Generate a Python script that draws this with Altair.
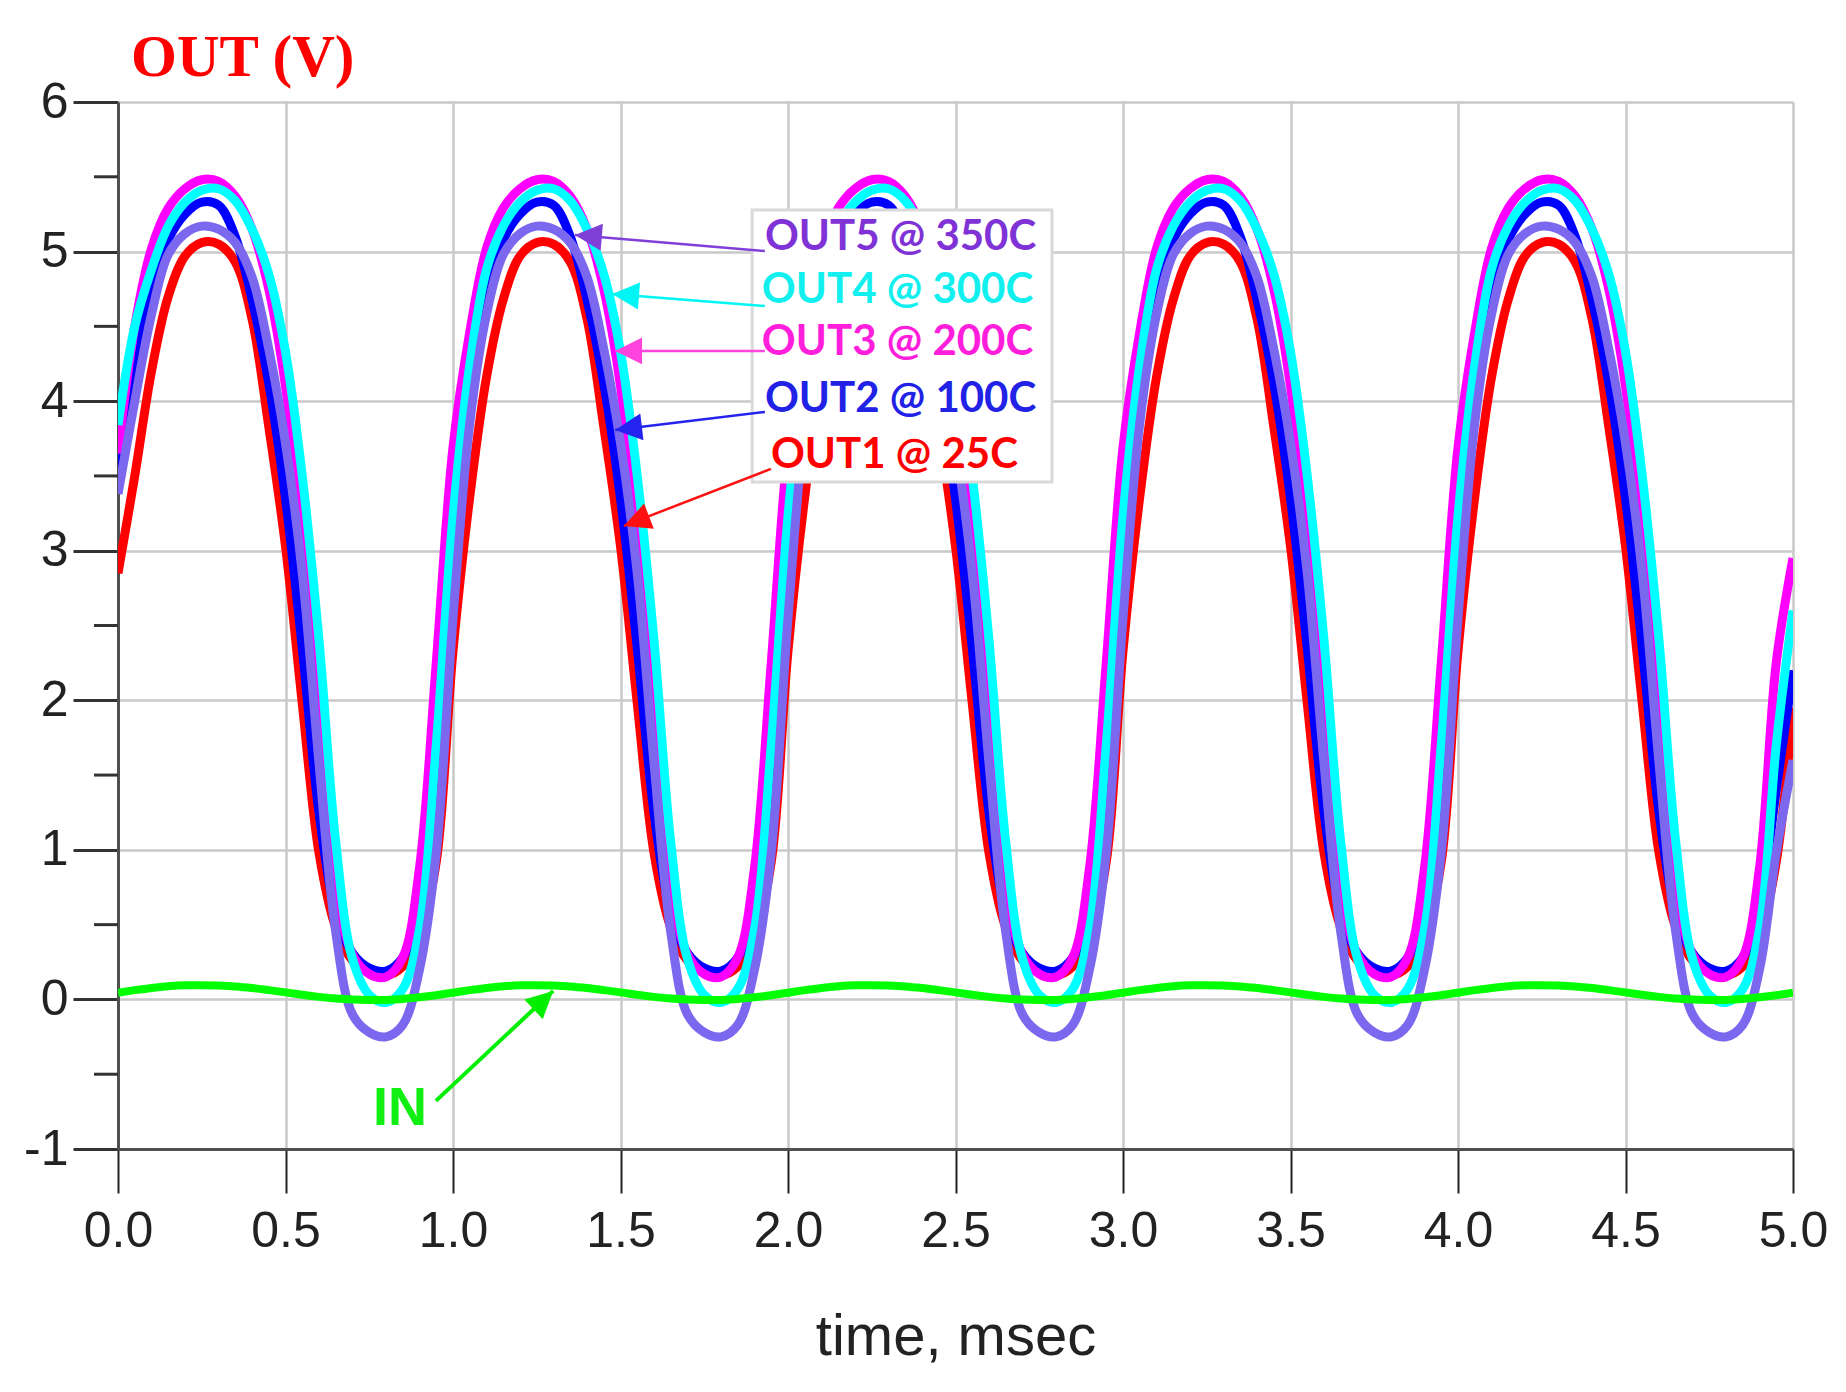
import altair as alt
import pandas as pd

# sampling grid (msec)
T = [round(i * 0.05, 2) for i in range(101)]

# ---- values (V), one row per millisecond ----
OUT1_25C = [
    2.85, 3.50, 4.20, 4.70, 4.97, 5.06, 5.05, 4.93, 4.55, 3.83, 3.03, 1.98, 0.98, 0.48, 0.26, 0.18, 0.16, 0.22, 0.42, 0.92,
    2.33, 3.36, 4.16, 4.68, 4.97, 5.06, 5.05, 4.93, 4.55, 3.83, 3.03, 1.98, 0.98, 0.48, 0.26, 0.18, 0.16, 0.22, 0.42, 0.92,
    2.33, 3.36, 4.16, 4.68, 4.97, 5.06, 5.05, 4.93, 4.55, 3.83, 3.03, 1.98, 0.98, 0.48, 0.26, 0.18, 0.16, 0.22, 0.42, 0.92,
    2.33, 3.36, 4.16, 4.68, 4.97, 5.06, 5.05, 4.93, 4.55, 3.83, 3.03, 1.98, 0.98, 0.48, 0.26, 0.18, 0.16, 0.22, 0.42, 0.92,
    2.33, 3.36, 4.16, 4.68, 4.97, 5.06, 5.05, 4.93, 4.55, 3.83, 3.03, 1.98, 0.98, 0.48, 0.26, 0.18, 0.16, 0.22, 0.42, 0.92,
    1.95]
OUT2_100C = [
    3.40, 4.20, 4.75, 5.08, 5.25, 5.33, 5.31, 5.10, 4.68, 4.12, 3.35, 2.35, 1.25, 0.58, 0.31, 0.21, 0.19, 0.28, 0.62, 1.40,
    2.90, 4.05, 4.75, 5.08, 5.25, 5.33, 5.31, 5.10, 4.68, 4.12, 3.35, 2.35, 1.25, 0.58, 0.31, 0.21, 0.19, 0.28, 0.62, 1.40,
    2.90, 4.05, 4.75, 5.08, 5.25, 5.33, 5.31, 5.10, 4.68, 4.12, 3.35, 2.35, 1.25, 0.58, 0.31, 0.21, 0.19, 0.28, 0.62, 1.40,
    2.90, 4.05, 4.75, 5.08, 5.25, 5.33, 5.31, 5.10, 4.68, 4.12, 3.35, 2.35, 1.25, 0.58, 0.31, 0.21, 0.19, 0.28, 0.62, 1.40,
    2.90, 4.05, 4.75, 5.08, 5.25, 5.33, 5.31, 5.10, 4.68, 4.12, 3.35, 2.35, 1.25, 0.58, 0.31, 0.21, 0.19, 0.28, 0.62, 1.40,
    2.20]
OUT3_200C = [
    3.65, 4.50, 5.02, 5.29, 5.42, 5.48, 5.47, 5.37, 5.15, 4.75, 4.10, 3.10, 1.93, 0.78, 0.30, 0.17, 0.15, 0.28, 0.88, 2.25,
    3.69, 4.46, 5.02, 5.29, 5.42, 5.48, 5.47, 5.37, 5.15, 4.75, 4.10, 3.10, 1.93, 0.78, 0.30, 0.17, 0.15, 0.28, 0.88, 2.25,
    3.69, 4.46, 5.02, 5.29, 5.42, 5.48, 5.47, 5.37, 5.15, 4.75, 4.10, 3.10, 1.93, 0.78, 0.30, 0.17, 0.15, 0.28, 0.88, 2.25,
    3.69, 4.46, 5.02, 5.29, 5.42, 5.48, 5.47, 5.37, 5.15, 4.75, 4.10, 3.10, 1.93, 0.78, 0.30, 0.17, 0.15, 0.28, 0.88, 2.25,
    3.69, 4.46, 5.02, 5.29, 5.42, 5.48, 5.47, 5.37, 5.15, 4.75, 4.10, 3.10, 1.93, 0.78, 0.30, 0.17, 0.15, 0.28, 0.88, 2.25,
    2.95]
OUT4_300C = [
    3.84, 4.50, 4.88, 5.17, 5.33, 5.41, 5.42, 5.34, 5.15, 4.85, 4.33, 3.50, 2.40, 1.05, 0.27, 0.03, -0.02, 0.07, 0.47, 1.70,
    3.23, 4.24, 4.88, 5.17, 5.33, 5.41, 5.42, 5.34, 5.15, 4.85, 4.33, 3.50, 2.40, 1.05, 0.27, 0.03, -0.02, 0.07, 0.47, 1.70,
    3.23, 4.24, 4.88, 5.17, 5.33, 5.41, 5.42, 5.34, 5.15, 4.85, 4.33, 3.50, 2.40, 1.05, 0.27, 0.03, -0.02, 0.07, 0.47, 1.70,
    3.23, 4.24, 4.88, 5.17, 5.33, 5.41, 5.42, 5.34, 5.15, 4.85, 4.33, 3.50, 2.40, 1.05, 0.27, 0.03, -0.02, 0.07, 0.47, 1.70,
    3.23, 4.24, 4.88, 5.17, 5.33, 5.41, 5.42, 5.34, 5.15, 4.85, 4.33, 3.50, 2.40, 1.05, 0.27, 0.03, -0.02, 0.07, 0.47, 1.70,
    2.60]
OUT5_350C = [
    3.38, 4.00, 4.58, 4.98, 5.12, 5.17, 5.15, 5.06, 4.83, 4.35, 3.72, 2.85, 1.58, 0.45, -0.10, -0.22, -0.25, -0.17, 0.20, 0.98,
    2.55, 3.85, 4.58, 4.98, 5.12, 5.17, 5.15, 5.06, 4.83, 4.35, 3.72, 2.85, 1.58, 0.45, -0.10, -0.22, -0.25, -0.17, 0.20, 0.98,
    2.55, 3.85, 4.58, 4.98, 5.12, 5.17, 5.15, 5.06, 4.83, 4.35, 3.72, 2.85, 1.58, 0.45, -0.10, -0.22, -0.25, -0.17, 0.20, 0.98,
    2.55, 3.85, 4.58, 4.98, 5.12, 5.17, 5.15, 5.06, 4.83, 4.35, 3.72, 2.85, 1.58, 0.45, -0.10, -0.22, -0.25, -0.17, 0.20, 0.98,
    2.55, 3.85, 4.58, 4.98, 5.12, 5.17, 5.15, 5.06, 4.83, 4.35, 3.72, 2.85, 1.58, 0.45, -0.10, -0.22, -0.25, -0.17, 0.20, 0.98,
    1.60]
IN = [
    0.045, 0.062, 0.077, 0.088, 0.094, 0.095, 0.093, 0.087, 0.076, 0.062, 0.047, 0.031, 0.017, 0.006, -0.001, -0.004, -0.003, 0.003, 0.014, 0.028,
    0.045, 0.062, 0.077, 0.088, 0.094, 0.095, 0.093, 0.087, 0.076, 0.062, 0.047, 0.031, 0.017, 0.006, -0.001, -0.004, -0.003, 0.003, 0.014, 0.028,
    0.045, 0.062, 0.077, 0.088, 0.094, 0.095, 0.093, 0.087, 0.076, 0.062, 0.047, 0.031, 0.017, 0.006, -0.001, -0.004, -0.003, 0.003, 0.014, 0.028,
    0.045, 0.062, 0.077, 0.088, 0.094, 0.095, 0.093, 0.087, 0.076, 0.062, 0.047, 0.031, 0.017, 0.006, -0.001, -0.004, -0.003, 0.003, 0.014, 0.028,
    0.045, 0.062, 0.077, 0.088, 0.094, 0.095, 0.093, 0.087, 0.076, 0.062, 0.047, 0.031, 0.017, 0.006, -0.001, -0.004, -0.003, 0.003, 0.014, 0.028,
    0.045]

X_TICKS = [0.0, 0.5, 1.0, 1.5, 2.0, 2.5, 3.0, 3.5, 4.0, 4.5, 5.0]
Y_TICKS = [-1, 0, 1, 2, 3, 4, 5, 6]
Y_MINOR = [-0.5, 0.5, 1.5, 2.5, 3.5, 4.5, 5.5]

# annotation labels (text, anchor position in data units, colour)
LABELS = ["OUT5 @ 350C", "OUT4 @ 300C", "OUT3 @ 200C", "OUT2 @ 100C", "OUT1 @ 25C"]
LABEL_T = [1.931, 1.922, 1.922, 1.931, 1.949]
LABEL_V = [5.011, 4.656, 4.309, 3.928, 3.553]
LABEL_COLORS = ["#7F33D6", "#12EFEF", "#FF1EDC", "#2222E6", "#FF0000"]
# arrows: tail (at label) -> tip (at curve)
ARROW_T = [1.931, 1.931, 1.931, 1.931, 1.949, 0.949]
ARROW_V = [5.004, 4.636, 4.336, 3.928, 3.547, -0.678]
ARROW_T2 = [1.364, 1.475, 1.484, 1.484, 1.510, 1.299]
ARROW_V2 = [5.111, 4.717, 4.336, 3.807, 3.166, 0.057]
ARROW_ANGLE = [274.8, 274.5, 270.0, 263.2, 248.8, 46.8]
ARROW_WIDTH = [2.5, 2.5, 2.5, 2.5, 2.5, 4.0]
ARROW_COLORS = ["#8040D8", "#00F5F5", "#FF44DD", "#2424EE", "#FF1010", "#00EE00"]

BOX = {"t": 1.893, "t2": 2.788, "v": 5.278, "v2": 3.460}

xs = alt.Scale(domain=[0, 5], nice=False, zero=False)
ys = alt.Scale(domain=[-1, 6], nice=False, zero=False)

x_axis = alt.Axis(values=X_TICKS, format=".1f", title="time, msec", grid=True,
                  gridColor="#C9C9C9", gridWidth=2.5, tickSize=44, tickWidth=2,
                  tickColor="#222222", labelFontSize=50, labelFont="Liberation Sans",
                  labelColor="#222222", labelPadding=13, labelFlush=False,
                  domainColor="#505050", domainWidth=3,
                  titleFontSize=58, titleFont="Liberation Sans", titleFontWeight="normal",
                  titleColor="#222222", titleY=205, titleBaseline="alphabetic")
y_axis = alt.Axis(values=Y_TICKS, labelExpr="'' + datum.value", title=None, grid=True,
                  gridColor="#C9C9C9", gridWidth=2.5, tickSize=45, tickWidth=3,
                  tickColor="#333333", labelFontSize=50, labelFont="Liberation Sans",
                  labelColor="#222222", labelPadding=5, labelFlush=False,
                  domainColor="#505050", domainWidth=3)


def curve(values, color, width=9):
    df = pd.DataFrame({"t": T, "v": values})
    return alt.Chart(df).mark_line(color=color, strokeWidth=width, interpolate="catmull-rom",
                                   clip=True).encode(
        x=alt.X("t:Q", scale=xs, axis=x_axis),
        y=alt.Y("v:Q", scale=ys, axis=y_axis))


minor = alt.Chart(pd.DataFrame({"v": Y_MINOR})).mark_rule(
    color="#333333", strokeWidth=3).encode(
    x=alt.value(-24), x2=alt.value(0), y=alt.Y("v:Q", scale=ys))

lines = [
    curve(OUT1_25C, "#FF0000"),
    curve(OUT2_100C, "#0000FF"),
    curve(OUT3_200C, "#FF00FF"),
    curve(OUT4_300C, "#00FFFF"),
    curve(OUT5_350C, "#7B68EE"),
    curve(IN, "#00FF00", 8),
]

box = alt.Chart(pd.DataFrame([BOX])).mark_rect(
    fill="white", stroke="#D9D9D9", strokeWidth=3).encode(
    x=alt.X("t:Q", scale=xs), x2="t2:Q", y=alt.Y("v:Q", scale=ys), y2="v2:Q")

lab_df = pd.DataFrame({"t": LABEL_T, "v": LABEL_V, "label": LABELS, "color": LABEL_COLORS})
labels = alt.Chart(lab_df).mark_text(
    font="Lato", fontSize=42, fontWeight="bold", align="left", baseline="alphabetic").encode(
    x=alt.X("t:Q", scale=xs), y=alt.Y("v:Q", scale=ys), text="label:N",
    color=alt.Color("color:N", scale=None))

arr_df = pd.DataFrame({"t": ARROW_T, "v": ARROW_V, "t2": ARROW_T2, "v2": ARROW_V2,
                       "ang": ARROW_ANGLE, "w": ARROW_WIDTH, "color": ARROW_COLORS})
arrow_lines = alt.Chart(arr_df).mark_rule().encode(
    x=alt.X("t:Q", scale=xs), y=alt.Y("v:Q", scale=ys), x2="t2:Q", y2="v2:Q",
    strokeWidth=alt.StrokeWidth("w:Q", scale=None),
    color=alt.Color("color:N", scale=None))
arrow_heads = alt.Chart(arr_df).mark_point(
    shape="M0,0 L0.5,1 L-0.5,1 Z", filled=True, size=2900, opacity=1, strokeWidth=0).encode(
    x=alt.X("t2:Q", scale=xs), y=alt.Y("v2:Q", scale=ys),
    angle=alt.Angle("ang:Q", scale=None),
    color=alt.Color("color:N", scale=None))

in_label = alt.Chart(pd.DataFrame({"t": [0.842], "v": [-0.731], "label": ["IN"]})).mark_text(
    font="Liberation Sans", fontSize=54, fontWeight="bold", color="#11EE11",
    align="center", baseline="middle").encode(
    x=alt.X("t:Q", scale=xs), y=alt.Y("v:Q", scale=ys), text="label:N")

chart = alt.layer(minor, *lines, box, labels, arrow_lines, arrow_heads, in_label).properties(
    width=1675, height=1047,
    autosize=alt.AutoSizeParams(type="none"),
    padding={"left": 110, "top": 94, "right": 45, "bottom": 235},
    title=alt.TitleParams("OUT (V)", anchor="start", frame="group", font="Liberation Serif",
                          fontSize=59, fontWeight="bold", color="#FF0000", dx=13, dy=62,
                          offset=4, baseline="alphabetic"),
).configure_view(stroke="#505050", strokeWidth=3).configure(background="white")

chart.save("out.html", embed_options={"renderer": "svg", "actions": False})
